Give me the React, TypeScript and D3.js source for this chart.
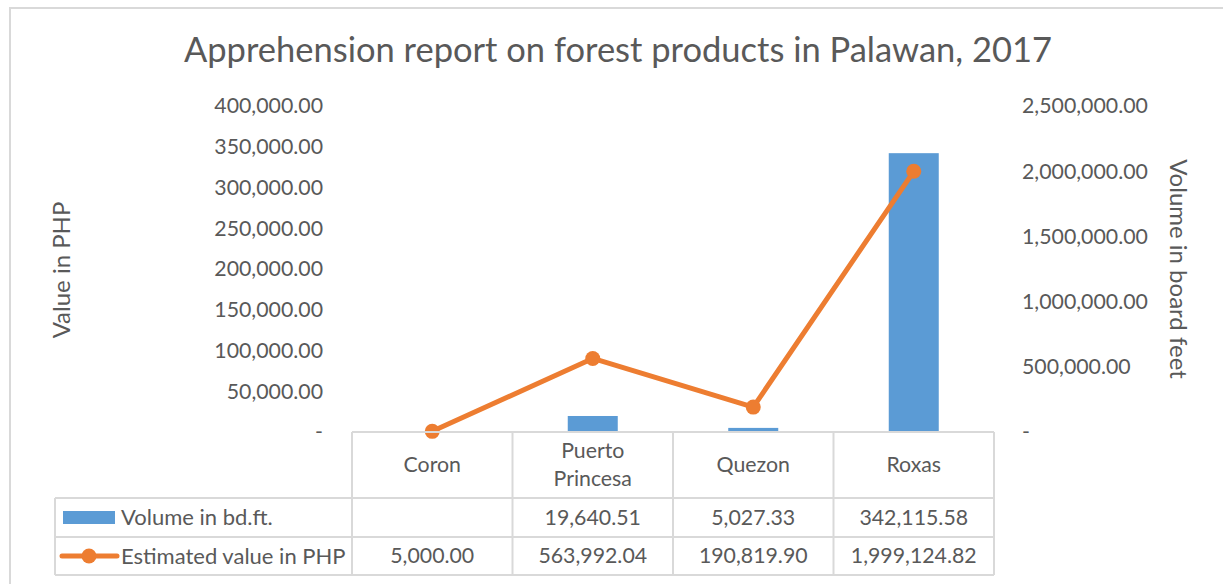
import React from "react";
import * as d3 from "d3";

const categories = ["Coron", "Puerto Princesa", "Quezon", "Roxas"];
const categoryLines = [["Coron"], ["Puerto", "Princesa"], ["Quezon"], ["Roxas"]];
const volume: (number | null)[] = [null, 19640.51, 5027.33, 342115.58];
const estValue = [5000.0, 563992.04, 190819.9, 1999124.82];
const leftTicks = [0, 50000, 100000, 150000, 200000, 250000, 300000, 350000, 400000];
const rightTicks = [0, 500000, 1000000, 1500000, 2000000, 2500000];
const seriesNames = ["Volume in bd.ft.", "Estimated value in PHP"];

const W = 1223;
const H = 584;
const FONT = "Lato, Carlito, Calibri, sans-serif";
const TXT = "#595959";
const GRID = "#D9D9D9";
const BLUE = "#5B9BD5";
const ORANGE = "#ED7D31";
const TICK_FS = 21.3;
const CELL_FS = 21.3;

export default function App() {
  const plotL = 352, plotR = 994, plotT = 106, plotB = 432;
  const x = d3.scaleBand<string>().domain(categories).range([plotL, plotR]).padding(0);
  const yL = d3.scaleLinear().domain([0, 400000]).range([plotB, plotT]);
  const yR = d3.scaleLinear().domain([0, 2500000]).range([plotB, plotT]);
  const fmt = d3.format(",.2f");
  const tickFmt = (v: number) => (v === 0 ? "-" : fmt(v));
  const bw = x.bandwidth();
  const cx = (c: string) => (x(c) as number) + bw / 2;
  const barW = 50;

  const line = d3
    .line<number>()
    .x((_, i) => cx(categories[i]))
    .y((d) => yR(d));

  const rowTop = [432, 498, 537, 575];
  const legendL = 55;

  return (
    <svg width={W} height={H} style={{ position: "absolute", left: 0, top: 0 }} fontFamily={FONT}>
      <rect x={0} y={0} width={W} height={H} fill="#fff" />
      <rect x={10} y={8} width={W - 9} height={H} fill="#fff" stroke={GRID} strokeWidth={2} />
      <text x={618} y={62} textAnchor="middle" fontSize={34.5} fill={TXT}>
        Apprehension report on forest products in Palawan, 2017
      </text>

      {/* left axis labels */}
      {leftTicks.map((t) => (
        <text key={"l" + t} x={323} y={yL(t)} dy="0.35em" textAnchor="end" fontSize={TICK_FS} fill={TXT}>
          {tickFmt(t)}
        </text>
      ))}
      {rightTicks.map((t) => (
        <text key={"r" + t} x={1022} y={yR(t)} dy="0.35em" textAnchor="start" fontSize={TICK_FS} fill={TXT}>
          {tickFmt(t)}
        </text>
      ))}
      <text transform="translate(62,270) rotate(-90)" textAnchor="middle" dy="0.35em" fontSize={24} fill={TXT}>
        Value in PHP
      </text>
      <text transform="translate(1178,269) rotate(90)" textAnchor="middle" dy="0.35em" fontSize={24} fill={TXT}>
        Volume in board feet
      </text>

      {/* bars */}
      {categories.map((c, i) =>
        volume[i] == null ? null : (
          <rect
            key={"b" + c}
            x={cx(c) - barW / 2}
            y={yL(volume[i] as number)}
            width={barW}
            height={plotB - yL(volume[i] as number)}
            fill={BLUE}
          />
        )
      )}

      {/* line */}
      <path d={line(estValue) || ""} fill="none" stroke={ORANGE} strokeWidth={5} strokeLinejoin="round" />
      {estValue.map((v, i) => (
        <circle key={"p" + i} cx={cx(categories[i])} cy={yR(v)} r={7.5} fill={ORANGE} />
      ))}

      {/* data table */}
      <g stroke={GRID} strokeWidth={2} fill="none">
        <line x1={plotL} x2={plotR} y1={rowTop[0]} y2={rowTop[0]} />
        <line x1={legendL} x2={plotR} y1={rowTop[1]} y2={rowTop[1]} />
        <line x1={legendL} x2={plotR} y1={rowTop[2]} y2={rowTop[2]} />
        <line x1={legendL} x2={plotR} y1={rowTop[3]} y2={rowTop[3]} />
        <line x1={legendL} x2={legendL} y1={rowTop[1]} y2={rowTop[3]} />
        {categories.map((c) => (
          <line key={"v" + c} x1={x(c)} x2={x(c)} y1={rowTop[0]} y2={rowTop[3]} />
        ))}
        <line x1={plotR} x2={plotR} y1={rowTop[0]} y2={rowTop[3]} />
      </g>

      {categories.map((c, i) => {
        const lines = categoryLines[i];
        const mid = (rowTop[0] + rowTop[1]) / 2;
        const lh = 28;
        return lines.map((ln, j) => (
          <text
            key={c + j}
            x={cx(c)}
            y={mid + (j - (lines.length - 1) / 2) * lh}
            dy="0.35em"
            textAnchor="middle"
            fontSize={CELL_FS}
            fill={TXT}
          >
            {ln}
          </text>
        ));
      })}

      {categories.map((c, i) => (
        <text key={"vv" + c} x={cx(c)} y={(rowTop[1] + rowTop[2]) / 2} dy="0.35em" textAnchor="middle" fontSize={CELL_FS} fill={TXT}>
          {volume[i] == null ? "" : fmt(volume[i] as number)}
        </text>
      ))}
      {categories.map((c, i) => (
        <text key={"ev" + c} x={cx(c)} y={(rowTop[2] + rowTop[3]) / 2} dy="0.35em" textAnchor="middle" fontSize={CELL_FS} fill={TXT}>
          {fmt(estValue[i])}
        </text>
      ))}

      {/* legend keys */}
      <rect x={63} y={511} width={52} height={13} fill={BLUE} />
      <text x={121} y={(rowTop[1] + rowTop[2]) / 2} dy="0.35em" fontSize={22} fill={TXT}>
        {seriesNames[0]}
      </text>
      <line x1={62} x2={117} y1={556} y2={556} stroke={ORANGE} strokeWidth={5} strokeLinecap="round" />
      <circle cx={89} cy={556} r={7.5} fill={ORANGE} />
      <text x={121} y={(rowTop[2] + rowTop[3]) / 2} dy="0.35em" fontSize={22} fill={TXT}>
        {seriesNames[1]}
      </text>
    </svg>
  );
}
